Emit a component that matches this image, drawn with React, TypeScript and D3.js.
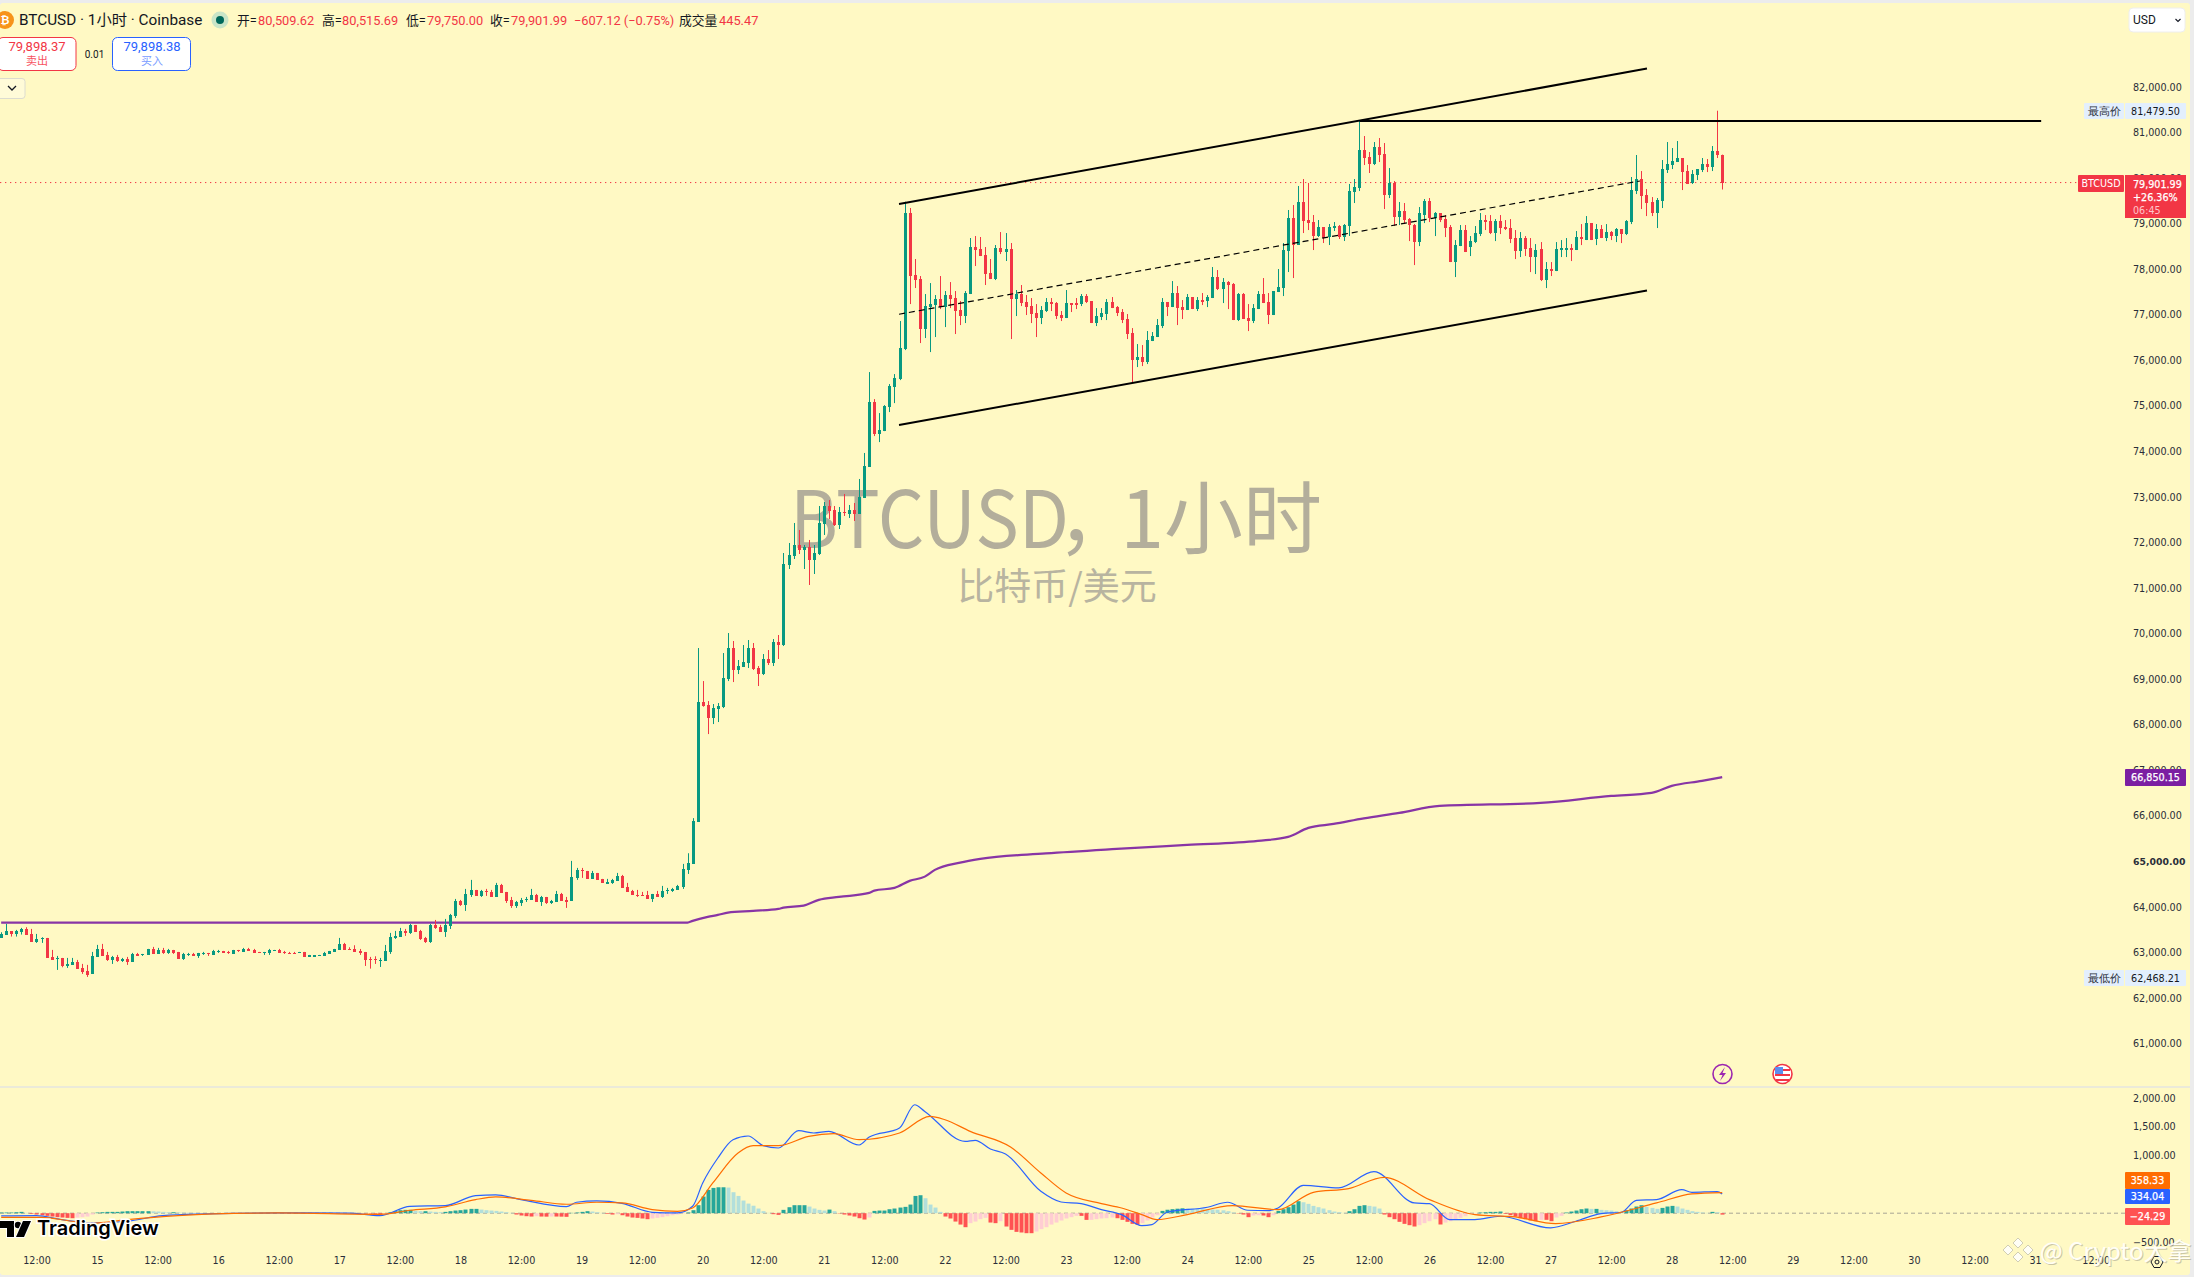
import { useEffect, useRef } from "react";
import * as d3 from "d3";

// hourly candles: [open, high, low, close]
const candles14 = [
  [63328,63445,63320,63408],[63386,63628,63386,63467],[63467,63467,63350,63401],[63408,63496,63350,63467],
  [63452,63540,63394,63518],[63518,63555,63386,63386],[63408,63518,63233,63233],[63233,63408,63211,63291],
  [63306,63335,63211,63320],[63320,63320,62881,62881],[62896,63057,62837,62837],[62867,62925,62618,62881],
  [62881,62881,62676,62706],[62706,62881,62662,62750],[62728,62881,62728,62794],[62794,62837,62640,62640],
  [62662,62750,62530,62567],[62596,62728,62464,62501],[62530,63013,62530,62925],[62903,63167,62903,63079],
  [63079,63189,62925,62925],[62947,63013,62815,62837],[62837,62925,62749,62903],[62903,62947,62793,62815],
  [62815,62881,62793,62859],[62859,62903,62728,62793],[62793,62991,62793,62969],[62969,62991,62925,62925],
  [62955,62969,62925,62969],[62947,63079,62947,63079],[63079,63123,62969,62969],[62969,63101,62969,63057],
  [63057,63101,62969,62991],[62991,63079,62969,63057],[63057,63057,62969,62991],[63013,63013,62859,62859],
  [62859,62991,62837,62969],[62955,62991,62925,62969],[62969,62991,62933,62933],[62925,62991,62881,62991],
  [62977,63013,62947,62991],[62991,62991,62925,62977],[62947,63057,62947,63035],[63020,63057,62991,63035],
  [63035,63035,62991,62991],[63013,63035,62969,62998],[62969,63057,62969,63057],[63057,63057,63013,63042],
  [63013,63101,63013,63079],[63079,63101,63035,63035],[63057,63079,62991,62991],[63013,63013,62998,62998],
  [62998,63013,62947,63013],[62991,63079,62947,63057],[63042,63057,63042,63057],[63057,63079,62991,62991],
  [63013,63035,62969,62998],[62998,63013,62977,62977],[62998,63013,62977,62977],[62998,63013,62998,63013],
  [63013,63013,62903,62903],[62903,62947,62903,62947],[62925,62940,62903,62940],[62933,62947,62933,62947],
  [62925,63013,62925,62991],[62969,63035,62969,63035],[63013,63079,63013,63079],[63057,63320,63057,63189],
  [63189,63211,63057,63057],
];
const candles17 = [
  [63078,63115,63064,63064],[63078,63159,63020,63020],[63034,63078,62947,62990],[63012,63012,62705,62837],
  [62866,62903,62646,62851],[62859,62917,62749,62844],[62830,62881,62683,62844],[62815,63166,62815,63034],
  [63012,63430,62969,63342],[63320,63474,63298,63364],[63342,63540,63342,63474],[63474,63518,63364,63430],
  [63430,63628,63408,63606],[63606,63606,63452,63452],[63474,63496,63276,63298],[63320,63342,63210,63232],
  [63232,63628,63210,63606],[63606,63715,63518,63540],[63562,63606,63452,63452],[63452,63737,63342,63606],
  [63583,63847,63517,63825],[63803,64176,63759,64132],[64132,64154,64023,64045],[64045,64396,63913,64286],
  [64264,64594,64220,64374],[64374,64374,64242,64242],[64242,64374,64220,64352],[64352,64396,64242,64337],
  [64330,64374,64220,64220],[64220,64528,64220,64484],[64484,64506,64308,64308],[64330,64330,64088,64132],
  [64154,64220,63979,64023],[64023,64132,63979,64110],[64088,64198,64023,64154],[64161,64220,64110,64176],
  [64154,64396,64154,64264],[64264,64286,64110,64110],[64110,64242,64023,64220],[64220,64220,64066,64088],
  [64096,64154,64066,64125],[64110,64352,64110,64286],[64286,64308,64132,64132],[64147,64220,63979,64132],
  [64132,65011,64132,64660],[64638,64857,64594,64813],[64813,64857,64638,64799],[64791,64791,64616,64616],
  [64616,64791,64616,64747],[64747,64747,64594,64594],[64616,64616,64528,64528],[64528,64616,64528,64542],
  [64528,64616,64506,64594],[64572,64747,64572,64681],[64681,64703,64418,64418],[64440,64528,64330,64330],
  [64352,64374,64264,64264],[64264,64374,64220,64242],[64264,64330,64242,64250],[64264,64352,64176,64176],
  [64176,64286,64110,64286],[64286,64352,64220,64220],[64220,64462,64198,64352],[64359,64418,64286,64374],
  [64352,64418,64330,64396],[64374,64484,64374,64462],[64440,64945,64396,64835],[64813,65179,64725,64967],
];
const candles20 = [
  [64948,65950,64948,65885],[65870,69684,65870,68498],[68498,68959,68396,68410],[68432,68520,67795,68147],
  [68147,68454,68015,68366],[68344,68476,68059,68410],[68388,69574,68366,69025],[69003,70013,68959,69684],
  [69684,69838,68937,69201],[69201,69421,69113,69289],[69267,69750,69267,69377],[69355,69860,69245,69684],
  [69684,69794,69201,69223],[69245,69289,68850,69113],[69113,69552,69091,69443],[69443,69640,69311,69355],
  [69355,69882,69289,69816],[69816,69970,69443,69750],[69750,71770,69728,71529],[71507,71990,71419,71726],
  [71704,72429,71639,71946],[71946,72275,71748,71836],[71836,71946,71419,71902],[71902,72056,71068,71617],
  [71617,71946,71309,71770],[71748,72802,71726,72429],[72407,72890,72166,72802],[72802,72934,72517,72693],
  [72715,72802,72363,72385],[72385,72780,72297,72671],[72671,73066,72583,72649],[72627,72824,72539,72715],
  [72715,72868,72473,72627],[72627,73395,72627,73000],[72978,73966,72978,73681],
];
const candles21 = [
  [73659,75742,73659,75083],[75083,75149,74337,74381],[74381,74842,74205,74468],[74446,75017,74446,74995],
  [74973,75479,74864,75435],[75413,75698,75061,75610],[75588,76862,75566,76269],[76247,79482,76225,79234],
  [79234,79344,77235,77850],[77872,78224,77587,77762],[77784,77850,76379,76686],[76686,77455,76489,77191],
  [77169,77696,76181,77235],[77213,77433,76511,77345],[77345,77850,77125,77169],[77169,77521,76730,77433],
  [77433,77718,77147,77345],[77367,77521,76577,77082],[77104,77301,76774,76972],[76972,77521,76818,77477],
  [77455,78685,77455,78487],[78487,78729,78070,78421],[78443,78707,78289,78289],[78311,78487,77653,77894],
  [77916,78224,77784,77784],[77784,78531,77762,78465],[78465,78816,78333,78377],[78377,78794,78180,78443],
  [78443,78575,76467,77345],[77345,77543,76972,77455],[77455,77653,77191,77257],[77279,77433,76994,77169],
  [77191,77367,76818,77016],[77038,77235,76511,76928],[76928,77191,76796,77104],[77082,77367,77060,77279],
  [77279,77367,77082,77235],[77257,77279,76906,76972],[76994,77082,76862,76928],[76928,77543,76928,77257],
  [77257,77257,77060,77235],[77257,77367,77125,77235],[77235,77455,77191,77411],[77411,77455,77257,77279],
  [77301,77301,76818,76818],[76818,77147,76752,76972],[76950,77147,76884,77038],[77016,77345,76884,77279],
  [77279,77389,77147,77147],[77169,77191,76972,77038],[77060,77125,76818,76884],[76906,77016,76467,76577],
  [76599,76708,75522,76006],[76006,76357,75852,76072],[76072,76335,75874,75962],[75962,76643,75918,76445],
  [76423,76621,76423,76533],[76511,76906,76511,76774],[76752,77367,76708,77279],[77279,77279,76972,77169],
  [77169,77740,77169,77477],[77477,77631,76774,77147],[77169,77323,76906,77104],[77104,77455,77104,77389],
  [77389,77389,77125,77125],[77125,77389,77082,77323],[77323,77477,77213,77301],[77301,77433,77169,77389],
];
const candles24 = [
  [77367,78048,77367,77828],[77828,77982,77543,77565],[77565,77806,77257,77718],[77718,77740,77125,77652],
  [77674,77696,76884,76884],[76884,77477,76862,77455],[77455,77477,76906,76906],[76928,77235,76642,76862],
  [76862,77235,76818,77147],[77125,77521,77125,77455],[77455,77806,77257,77257],[77279,77477,76796,76994],
  [76994,77521,76994,77521],[77499,78004,77499,77609],[77587,78575,77411,78421],[78399,79300,77938,79124],
  [79124,79409,77806,78531],[78531,79827,78531,79475],[79475,79980,78794,79058],[79080,79893,78860,79014],
  [79036,79190,78421,78729],[78729,79080,78707,78926],[78926,78926,78575,78685],[78707,78992,78531,78926],
  [78904,79036,78838,78948],[78948,78970,78663,78707],[78707,78992,78619,78970],[78948,79871,78729,79717],
  [79695,79980,79453,79805],[79782,81253,79716,80617],[80617,80924,80287,80441],[80463,80573,80112,80309],
  [80309,80792,80287,80682],[80682,80880,80353,80507],[80529,80770,79321,79628],[79628,80221,79562,79892],
  [79892,79936,78948,79145],[79145,79475,78970,79277],[79277,79453,78992,79079],[79101,79123,78618,78970],
  [78970,78992,78091,78596],[78596,79365,78508,79233],[79189,79541,79013,79497],[79497,79563,79035,79123],
  [79123,79255,78728,79233],[79233,79233,79035,79079],[79101,79189,78706,78904],[78926,78970,78157,78157],
  [78157,78640,77828,78530],[78508,78970,78508,78860],[78860,78970,78377,78377],[78486,78728,78289,78618],
  [78596,78948,78574,78794],[78772,79233,78728,79079],[79079,79189,78860,79035],[79057,79189,78772,78794],
  [78794,79101,78618,79057],[79057,79189,78772,78904],[78926,79079,78860,78904],[78904,79101,78574,78662],
  [78684,78860,78223,78399],[78399,78816,78267,78684],[78684,78728,78289,78443],[78465,78684,77937,78267],
  [78267,78552,77894,78421],[78443,78596,77740,77762],[77762,78157,77586,78003],[78003,78157,77850,77959],
  [77959,78596,77959,78443],[78421,78640,78267,78465],[78443,78684,78267,78465],[78465,78552,78179,78421],
  [78421,78838,78421,78706],[78706,78991,78530,78662],[78640,79167,78640,79013],[79013,79013,78640,78640],
  [78662,78991,78530,78882],[78882,78970,78684,78684],[78684,78991,78618,78816],[78816,78838,78640,78728],
  [78728,78904,78596,78882],[78882,78882,78574,78772],[78772,79079,78750,79057],[79035,80024,78991,79738],
  [79716,80507,79650,79980],[79980,80155,79321,79606],[79628,79760,79167,79453],[79475,79584,79167,79233],
  [79233,79563,78904,79519],[79497,80397,79343,80199],[80177,80792,80112,80309],[80287,80660,80199,80375],
  [80353,80814,80353,80441],[80441,80441,79738,80133],[80155,80287,79870,79870],[79892,80177,79870,80089],
  [80067,80199,79958,80199],[80177,80441,80133,80309],[80309,80419,80133,80243],[80243,80704,80155,80595],
  [80595,81479.5,80441,80509],[80509.62,80515.69,79750,79901.99],
];
const candles = [...candles14, ...candles17, ...candles20, ...candles21, ...candles24];

const maIndex = [0,136,137,140,142,144,149,154,155,159,162,166,172,173,177,180,183,185,190,194,207,221,235,249,255,259,264,270,277,285,305,319,327,331,337,341];
const maValues = [63656,63656,63694,63782,63825,63876,63913,63957,63986,64030,64155,64220,64308,64359,64418,64572,64666,64813,64973,65055,65175,65274,65362,65450,65538,65735,65823,65944,66064,66218,66284,66437,66503,66657,66767,66850.15];

const macdIndex = [0,7,12,18,25,32,41,55,69,75,81,88,94,98,103,112,114,118,123,129,134,137,139,142,145,148,151,154,158,161,164,170,172,178,181,183,191,193,196,199,206,210,214,218,222,226,228,231,239,243,247,251,253,258,265,272,280,283,287,292,297,307,312,317,321,324,328,333,335,340,341];
const macdValues = [-47,-42,-111,-169,-140,-42,-13,5,0,-42,120,132,305,317,236,114,190,213,172,16,5,120,525,958,1276,1340,1172,1132,1432,1392,1421,1184,1322,1478,1883,1767,1247,1265,1114,1028,380,195,166,62,-24,-215,-198,16,103,190,51,45,91,484,438,721,178,166,-111,-111,-53,-255,-140,-7,16,224,236,409,363,375,334.04];
const signalIndex = [0,8,14,18,25,35,42,55,75,81,88,94,98,105,112,118,123,129,134,137,141,146,149,154,160,165,170,178,184,187,192,200,206,211,218,222,226,229,235,244,253,260,267,274,283,292,300,308,317,328,335,341];
const signalValues = [-71,-71,-140,-175,-111,-42,-13,5,-19,51,109,236,282,224,155,190,178,62,33,91,525,1045,1172,1172,1334,1380,1276,1392,1681,1623,1421,1149,698,351,166,91,-24,-111,-24,132,62,363,427,623,236,-24,-65,-180,-65,178,334,358.33];
const histValues = [
  12,12,12,17,23,6,-12,-23,-35,-46,
  -58,-69,-75,-81,-87,-75,-69,-58,-23,12,
  17,23,23,23,29,35,35,35,35,35,
  33,29,23,17,17,12,10,8,6,5,
  4,3,2,2,1,1,1,0,-1,-1,
  -1,-2,-2,-3,-4,-4,-5,-6,-8,-8,
  -8,-6,2,4,5,6,5,3,2,1,
  0,-3,-6,-8,-12,-23,-10,17,35,52,
  58,58,40,35,35,29,23,17,23,35,
  46,52,63,75,75,63,52,46,40,29,
  17,6,-23,-40,-52,-58,-52,-58,-60,-58,
  -58,-60,-63,6,12,23,35,29,17,6,
  -12,-23,-17,-35,-58,-75,-81,-92,-104,-92,
  -81,-69,-52,-35,-23,-6,12,52,139,289,
  405,439,450,450,445,364,300,220,167,130,
  81,35,6,-17,-29,58,104,139,139,139,
  115,81,58,46,63,35,-6,-23,-40,-58,
  -87,-110,-75,40,46,46,69,81,98,110,
  150,300,312,260,150,98,23,-58,-92,-145,
  -197,-243,-173,-145,-104,-81,-162,-173,-139,-231,
  -289,-324,-335,-347,-347,-318,-277,-243,-197,-162,
  -127,-92,-69,-46,-46,-116,-115,-104,-92,-87,
  -75,-87,-116,-150,-185,-202,-173,-127,-75,-35,
  40,60,70,78,85,80,78,75,72,70,
  65,60,50,35,12,-6,-23,-69,-40,-35,
  -40,-69,-35,40,69,104,150,208,190,162,
  127,104,81,52,29,17,6,35,69,127,
  139,127,115,81,-23,-69,-104,-150,-185,-208,
  -231,-208,-173,-139,-104,-196,-162,-139,-104,-81,
  -52,-12,-6,12,17,23,23,29,-12,-35,
  -58,-87,-104,-127,-139,-115,-115,-139,-75,-46,
  12,29,46,69,81,75,75,58,52,46,
  35,23,52,81,116,139,110,92,75,92,
  116,127,116,81,58,35,23,12,6,23,
  17,-24.29,
];

const priceTicks = d3.range(61000, 82001, 1000);
const macdTicks = [2000, 1500, 1000, 500, 0, -500];
const timeTickIndex = d3.range(0, 35).map((k) => 7 + 12 * k);
const timeTickLabels = ["12:00","15","12:00","16","12:00","17","12:00","18","12:00","19","12:00","20","12:00","21","12:00","22","12:00","23","12:00","24","12:00","25","12:00","26","12:00","27","12:00","28","12:00","29","12:00","30","12:00","31","12:00"];

// drawn lines, as [hour index, price]
const upperChannel = [[177.9, 79432], [326.1, 82404]];
const midChannel = [[177.9, 77011], [324.7, 79937]];
const lowerChannel = [[177.9, 74581], [326.1, 77535]];
const highLine = [[269.2, 81254], [404.2, 81254]];

const x = d3.scaleLinear().domain([0, 415]).range([1.17, 1.17 + 415 * 5.047]);
const y = d3.scaleLinear().domain([61000, 82000]).range([1043.6, 87]);
const yMacd = d3.scaleLinear().domain([-500, 2000]).range([1242, 1098]);

const GREEN = "#089981";
const RED = "#f23645";
const AXIS_FONT = "'DejaVu Sans', sans-serif";
const UI_FONT = "Roboto, 'Noto Sans CJK SC', sans-serif";
const MARK_FONT = "'Noto Sans CJK SC', 'Noto Sans', sans-serif";

export default function App() {
  const chartRef = useRef<SVGGElement>(null);

  useEffect(() => {
    if (!chartRef.current) return;
    const g = d3.select(chartRef.current);
    g.selectAll("*").remove();

    // current price dotted line
    g.append("line")
      .attr("x1", 0).attr("x2", 2078)
      .attr("y1", y(79901.99)).attr("y2", y(79901.99))
      .attr("stroke", RED).attr("stroke-dasharray", "1.3,3.7");

    // macd zero line
    g.append("line")
      .attr("x1", 0).attr("x2", 2125)
      .attr("y1", yMacd(0)).attr("y2", yMacd(0))
      .attr("stroke", "#a8a594").attr("stroke-dasharray", "4,3");

    // histogram
    g.append("g").selectAll("rect").data(histValues).join("rect")
      .attr("x", (_, i) => Math.round(x(i)) - 1.5)
      .attr("width", 4)
      .attr("y", (d) => Math.min(yMacd(d), yMacd(0)))
      .attr("height", (d) => Math.abs(yMacd(d) - yMacd(0)))
      .attr("fill", (d, i) => {
        const prev = i > 0 ? histValues[i - 1] : 0;
        if (d >= 0) return d >= prev ? "#26a69a" : "#b2dfdb";
        return d <= prev ? "#ff5252" : "#ffcdd2";
      });

    // macd lines
    const line = d3.line<[number, number]>()
      .x((d) => x(d[0]))
      .curve(d3.curveMonotoneX);
    g.append("path")
      .attr("d", line.y((d) => yMacd(d[1]))(macdIndex.map((i, k) => [i, macdValues[k]])))
      .attr("fill", "none").attr("stroke", "#2962ff").attr("stroke-width", 1.2);
    g.append("path")
      .attr("d", line.y((d) => yMacd(d[1]))(signalIndex.map((i, k) => [i, signalValues[k]])))
      .attr("fill", "none").attr("stroke", "#ff6d00").attr("stroke-width", 1.2);

    // moving average
    g.append("path")
      .attr("d", line.y((d) => y(d[1]))(maIndex.map((i, k) => [i, maValues[k]])))
      .attr("fill", "none").attr("stroke", "#7b1fa2").attr("stroke-width", 2.2).attr("opacity", 0.9);

    // candles
    const candleG = g.append("g").selectAll("g").data(candles).join("g")
      .attr("fill", (d) => (d[3] >= d[0] ? GREEN : RED));
    candleG.append("rect")
      .attr("x", (_, i) => Math.round(x(i)))
      .attr("width", 1)
      .attr("y", (d) => y(d[1]))
      .attr("height", (d) => y(d[2]) - y(d[1]));
    candleG.append("rect")
      .attr("x", (_, i) => Math.round(x(i)) - 1)
      .attr("width", 3)
      .attr("y", (d) => y(Math.max(d[0], d[3])))
      .attr("height", (d) => Math.max(1.5, Math.abs(y(d[0]) - y(d[3]))))
      .attr("shape-rendering", "crispEdges");

    // trend lines
    const drawn = d3.line<number[]>().x((d) => x(d[0])).y((d) => y(d[1]));
    [upperChannel, lowerChannel, highLine].forEach((pts) => {
      g.append("path").attr("d", drawn(pts)).attr("stroke", "#000").attr("stroke-width", 2).attr("fill", "none");
    });
    g.append("path").attr("d", drawn(midChannel))
      .attr("stroke", "#000").attr("stroke-width", 1.2).attr("stroke-dasharray", "6,4").attr("fill", "none");

    // axes
    const priceAxis = g.append("g")
      .attr("transform", "translate(2133,0)")
      .call(d3.axisRight(y).tickValues(priceTicks).tickSize(0).tickPadding(0).tickFormat(d3.format(",.2f") as any));
    const macdAxis = g.append("g")
      .attr("transform", "translate(2133,0)")
      .call(d3.axisRight(yMacd).tickValues(macdTicks).tickSize(0).tickPadding(0).tickFormat(d3.format(",.2f") as any));
    const timeAxis = g.append("g")
      .attr("transform", "translate(0,1257.5)")
      .call(d3.axisBottom(x).tickValues(timeTickIndex).tickSize(0).tickPadding(0)
        .tickFormat((_, i) => timeTickLabels[i]));
    [priceAxis, macdAxis, timeAxis].forEach((a) => {
      a.select(".domain").remove();
      a.attr("font-family", AXIS_FONT).attr("font-size", 9.6).attr("color", "#2a2e39");
    });
    priceAxis.selectAll<SVGTextElement, number>("text")
      .filter((d) => d === 65000)
      .attr("font-weight", "bold")
      .attr("font-size", 9.3);
  }, []);

  // axis label box; "strong" thickens the regular face, the bold face is too wide for the boxes
  const box = (bx: number, by: number, w: number, h: number, fill: string, text: string, color = "#fff", strong = false, size = 9.6) => (
    <g>
      <rect x={bx} y={by} width={w} height={h} fill={fill} rx={1} />
      <text x={bx + w / 2} y={by + h / 2 + 3.5} textAnchor="middle" fill={color} stroke={strong ? color : "none"} strokeWidth={strong ? 0.25 : 0} fontSize={size} fontFamily={AXIS_FONT}>{text}</text>
    </g>
  );

  const headerLabels: [number, string, string][] = [
    [237, "开=", "#131722"], [258, "80,509.62", RED], [322, "高=", "#131722"], [342, "80,515.69", RED],
    [406, "低=", "#131722"], [427, "79,750.00", RED], [490, "收=", "#131722"], [511, "79,901.99", RED],
    [574, "−607.12 (−0.75%)", RED], [679, "成交量", "#131722"], [719, "445.47", RED],
  ];

  return (
    <svg width={2194} height={1277} style={{ position: "absolute", left: 0, top: 0, display: "block" }}>
      <rect width={2194} height={1277} fill="#ececec" />
      <rect x={0} y={3} width={2190} height={1272} fill="#fff9c4" rx={3} />
      <line x1={0} x2={2190} y1={1087} y2={1087} stroke="#e4e4e0" strokeWidth={1.5} />

      {/* watermark */}
      <g fill="#b3ae9b" fontSize={79} fontFamily={MARK_FONT}>
        <text x={790} y={548} textLength={279} lengthAdjust="spacingAndGlyphs">BTCUSD</text>
        <text x={1057} y={548}>，</text>
        <text x={1322} y={548} textAnchor="end">1小时</text>
      </g>
      <text x={1057} y={600} textAnchor="middle" fontSize={37} fill="#b8b4a0" fontFamily={MARK_FONT}>比特币/美元</text>

      <g ref={chartRef} />

      {/* header */}
      <circle cx={5} cy={20} r={9} fill="#f7931a" />
      <text x={5} y={24} textAnchor="middle" fontSize={11} fill="#fff" fontWeight={700} fontFamily={UI_FONT}>₿</text>
      <text x={19} y={25} fontSize={15.3} fill="#131722" fontFamily={UI_FONT}>BTCUSD · 1小时 · Coinbase</text>
      <circle cx={220} cy={20} r={8.5} fill="#c9e5c8" />
      <circle cx={220} cy={20} r={4} fill="#00695c" />
      {headerLabels.map(([tx, t, c]) => (
        <text key={tx} x={tx} y={25} fontSize={12.8} fill={c} fontFamily={UI_FONT}>{t}</text>
      ))}
      <rect x={-2} y={37.5} width={78} height={33} rx={5} fill="#fff" stroke={RED} />
      <text x={37} y={51} textAnchor="middle" fontSize={13} fill={RED} fontFamily={UI_FONT}>79,898.37</text>
      <text x={37} y={65} textAnchor="middle" fontSize={11} fill="#f7525f" fontFamily={UI_FONT}>卖出</text>
      <text x={94.5} y={58} textAnchor="middle" fontSize={10} fill="#131722" fontFamily={UI_FONT}>0.01</text>
      <rect x={112.5} y={37.5} width={78} height={33} rx={5} fill="#fff" stroke="#2962ff" />
      <text x={152} y={51} textAnchor="middle" fontSize={13} fill="#2962ff" fontFamily={UI_FONT}>79,898.38</text>
      <text x={152} y={65} textAnchor="middle" fontSize={11} fill="#7a9cff" fontFamily={UI_FONT}>买入</text>
      <rect x={-3} y={78.5} width={28} height={20} rx={3} fill="#fffbd8" stroke="#dcdcd0" />
      <path d="M8 86 l4 4 l4 -4" fill="none" stroke="#131722" strokeWidth={1.3} />

      {/* currency select */}
      <rect x={2129} y={8} width={56} height={24} rx={4} fill="#fff" stroke="#eeeeee" />
      <text x={2133} y={24} fontSize={12} fill="#131722" fontFamily={UI_FONT}>USD</text>
      <path d="M2175.5 19 l2.5 2.5 l2.5 -2.5" fill="none" stroke="#131722" strokeWidth={1.1} />

      {/* price labels */}
      {box(2084, 103, 40, 16, "#e3effd", "最高价", "#2a2e39", false, 11)}
      {box(2125, 103, 61, 16, "#e3effd", "81,479.50", "#131722")}
      {box(2084, 970, 40, 16, "#e3effd", "最低价", "#2a2e39", false, 11)}
      {box(2125, 970, 61, 16, "#e3effd", "62,468.21", "#131722")}
      {box(2078, 175, 46, 17, RED, "BTCUSD")}
      <rect x={2125} y={175} width={61} height={43} fill={RED} />
      <g fontSize={9.6} fontFamily={AXIS_FONT}>
        <text x={2133} y={188} fill="#fff" stroke="#fff" strokeWidth={0.25}>79,901.99</text>
        <text x={2133} y={201} fill="#fff" stroke="#fff" strokeWidth={0.25}>+26.36%</text>
        <text x={2133} y={213.5} fill="#ffc4c9">06:45</text>
      </g>
      {box(2125, 769, 61, 17, "#7b1fa2", "66,850.15", "#fff", true)}
      {box(2125, 1172, 45, 17, "#ff6d00", "358.33", "#fff", true)}
      {box(2125, 1189, 45, 15, "#2962ff", "334.04", "#fff", true)}
      {box(2125, 1208, 45, 17, "#ff5252", "−24.29", "#fff", true)}

      {/* event markers */}
      <circle cx={1722.5} cy={1074} r={9.5} fill="#fff9c4" stroke="#9c27b0" strokeWidth={1.6} />
      <path d="M1725 1067 l-6 8 h3.5 l-2.5 6 l6 -8 h-3.5 z" fill="#9c27b0" />
      <circle cx={1782.5} cy={1074} r={9.5} fill="#fff" stroke="#f23645" strokeWidth={1.6} />
      <path d="M1775 1070 h15 M1775 1075 h15 M1776 1080 h13" stroke="#f23645" strokeWidth={2} />
      <rect x={1775} y={1067} width={8} height={7} fill="#5b8def" />

      {/* logo */}
      <g>
        <path d="M0 1221 h14 v16 h-7 v-9 h-7 z" fill="#000" stroke="#fff" strokeWidth={2} paintOrder="stroke" />
        <circle cx={18} cy={1225} r={3.2} fill="#000" stroke="#fff" strokeWidth={2} paintOrder="stroke" />
        <path d="M23 1221 h8 l-7 16 h-8 z" fill="#000" stroke="#fff" strokeWidth={2} paintOrder="stroke" />
        <text x={37} y={1235} fontSize={20} fontWeight={600} fill="#000" stroke="#fff" strokeWidth={3} paintOrder="stroke" fontFamily="Inter, sans-serif">TradingView</text>
      </g>

      {/* settings */}
      <path d="M2151 1262 l3 -5.5 h6 l3 5.5 l-3 5.5 h-6 z" fill="none" stroke="#131722" strokeWidth={1} />
      <circle cx={2157} cy={1262} r={2} fill="none" stroke="#131722" strokeWidth={1} />

      {/* repost mark */}
      <g opacity={0.85}>
        <g fill="#fff" stroke="#bdb9a5" strokeWidth={0.8}>
          <path d="M2018 1238 l5 5 l-5 5 l-5 -5 z" />
          <path d="M2018 1252 l5 5 l-5 5 l-5 -5 z" />
          <path d="M2008 1245 l5 5 l-5 5 l-5 -5 z" />
          <path d="M2028 1245 l5 5 l-5 5 l-5 -5 z" />
        </g>
        <text x={2041} y={1261} fontSize={24} fill="#a9a692" opacity={0.7} fontFamily={MARK_FONT}>@ Crypto大拿</text>
        <text x={2040} y={1260} fontSize={24} fill="#fff" fontFamily={MARK_FONT}>@ Crypto大拿</text>
      </g>
    </svg>
  );
}
